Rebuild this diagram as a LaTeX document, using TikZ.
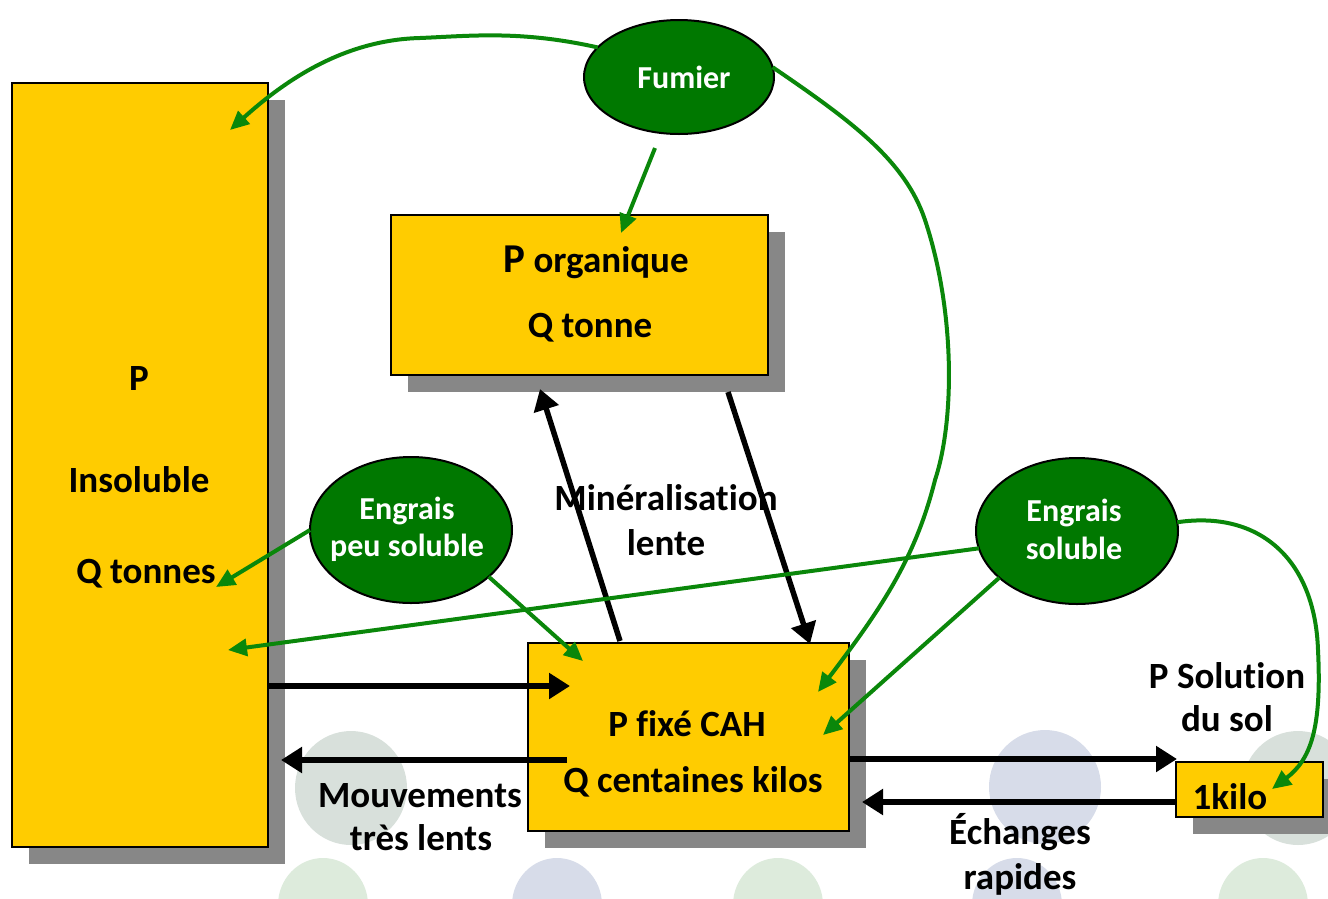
\documentclass[tikz,border=0pt]{standalone}
\usepackage{fontspec}
\setmainfont{Carlito}[Ligatures=NoCommon]
\usetikzlibrary{arrows.meta,shapes.geometric}
\definecolor{boxy}{HTML}{FFCC00}
\definecolor{shade}{HTML}{878787}
\definecolor{ellg}{HTML}{007800}
\definecolor{lineg}{HTML}{0A870A}
\definecolor{wmgrey}{HTML}{D8E0DB}
\definecolor{wmblue}{HTML}{D7DCE9}
\definecolor{wmgreen}{HTML}{DDEBDC}
\tikzset{
  box/.style={draw=black, line width=2pt, fill=boxy, inner sep=0pt, outer sep=0pt,
    preaction={fill=shade, transform canvas={shift={(17pt,-17pt)}}}},
  ell/.style={ellipse, draw=black, line width=2pt, fill=ellg, inner sep=0pt, outer sep=0pt},
  txt/.style={font=\bfseries\fontsize{37}{44}\selectfont, anchor=base, inner sep=0pt, text=black},
  etxt/.style={font=\bfseries\fontsize{32}{36}\selectfont, anchor=base, inner sep=0pt, text=white},
  blk/.style={draw=black, line width=5.5pt, -{Triangle[length=21pt,width=25pt]}},
  grn/.style={draw=lineg, line width=4pt, -{Triangle[length=19pt,width=17pt]}},
  wm/.style={inner sep=0pt, draw=none, ellipse}
}
\begin{document}
\begin{tikzpicture}[x=1pt,y=-1pt]
\useasboundingbox (0,0) rectangle (1328,898);
% watermark discs
\node[wm, fill=wmgrey, minimum width=112pt, minimum height=114pt] (w1) at (351,788) {};
\node[wm, fill=wmblue, minimum width=112pt, minimum height=114pt] (w2) at (1045,787) {};
\node[wm, fill=wmgrey, minimum width=112pt, minimum height=114pt] (w3) at (1298,788) {};
\node[wm, fill=wmgreen, minimum width=90pt, minimum height=94pt] (w4) at (323,905) {};
\node[wm, fill=wmblue, minimum width=90pt, minimum height=94pt] (w5) at (557,905) {};
\node[wm, fill=wmgreen, minimum width=90pt, minimum height=94pt] (w6) at (778,905) {};
\node[wm, fill=wmblue, minimum width=90pt, minimum height=94pt] (w7) at (1017,905) {};
\node[wm, fill=wmgreen, minimum width=90pt, minimum height=94pt] (w8) at (1263,905) {};
% boxes
\node[box, minimum width=256pt, minimum height=764pt] (big) at (140,465) {};
\node[box, minimum width=377pt, minimum height=160pt] (org) at (579.5,295) {};
\node[box, minimum width=321pt, minimum height=188pt] (fix) at (688.5,737) {};
\node[box, minimum width=147pt, minimum height=55pt] (kilo) at (1249.5,789.5) {};
% box texts
\node[txt] (t1) at (139,390) {P};
\node[txt] (t2) at (139,492) {Insoluble};
\node[txt] (t3) at (146,583) {Q tonnes};
\node[txt] (t4) at (596,272) {{\fontsize{41}{44}\selectfont P} organique};
\node[txt] (t5) at (590,337) {Q tonne};
\node[txt] (t6) at (687,736) {P fixé CAH};
\node[txt] (t7) at (693,792) {Q centaines kilos};
\node[txt] (t8) at (1230,809) {1kilo};
% free labels
\node[txt] (l1) at (420,807) {Mouvements};
\node[txt] (l2) at (421,850) {très lents};
\node[txt] (l3) at (666,510) {Minéralisation};
\node[txt] (l4) at (666,555) {lente};
\node[txt] (l5) at (1227,688) {P Solution};
\node[txt] (l6) at (1227,731) {du sol};
\node[txt] (l7) at (1020,844) {Échanges};
\node[txt] (l8) at (1020,889) {rapides};
% black arrows
\coordinate (b1s) at (268,686); \coordinate (b1e) at (570,686);
\coordinate (b2s) at (567,760); \coordinate (b2e) at (281,760);
\coordinate (b3s) at (620,641); \coordinate (b3e) at (540,389);
\coordinate (b4s) at (728,392); \coordinate (b4e) at (810,644);
\coordinate (b5s) at (849,759); \coordinate (b5e) at (1177,759);
\coordinate (b6s) at (1176,802); \coordinate (b6e) at (862,802);
\draw[blk] (b1s) -- (b1e);
\draw[blk] (b2s) -- (b2e);
\draw[blk] (b3s) -- (b3e);
\draw[blk] (b4s) -- (b4e);
\draw[blk] (b5s) -- (b5e);
\draw[blk] (b6s) -- (b6e);
% ellipses
\node[ell, minimum width=190pt, minimum height=114pt] (fum) at (679,77) {};
\node[ell, minimum width=202pt, minimum height=146pt] (peu) at (411,530) {};
\node[ell, minimum width=202pt, minimum height=146pt] (sol) at (1077,531) {};
\node[etxt] (e1) at (684,88) {Fumier};
\node[etxt] (e2) at (407,519) {Engrais};
\node[etxt] (e3) at (407,556) {peu soluble};
\node[etxt] (e4) at (1074,521) {Engrais};
\node[etxt] (e5) at (1074,559) {soluble};
% green arrows
\coordinate (g1e) at (230,130);
\coordinate (g2s) at (655,148); \coordinate (g2e) at (621,233);
\coordinate (g3e) at (818,692);
\coordinate (g4e) at (216,587);
\coordinate (g5e) at (583,661);
\coordinate (g6e) at (228,650);
\coordinate (g7e) at (823,735);
\coordinate (g8e) at (1272,789);
\draw[grn] (fum.160) .. controls (520,30) and (470,36) .. (420,38) .. controls (340,40) and (280,85) .. (g1e);
\draw[grn] (g2s) -- (g2e);
\draw[grn] (fum.6) .. controls (850,120) and (905,160) .. (925,220) .. controls (955,310) and (955,420) .. (935,480) .. controls (915,560) and (880,610) .. (g3e);
\draw[grn] (peu.west) -- (g4e);
\draw[grn] (peu.-31) -- (g5e);
\draw[grn] (sol.190) -- (g6e);
\draw[grn] (sol.211) -- (g7e);
\draw[grn] (sol.5) .. controls (1260,510) and (1315,560) .. (1318,650) .. controls (1322,730) and (1310,760) .. (g8e);
\end{tikzpicture}
\end{document}
